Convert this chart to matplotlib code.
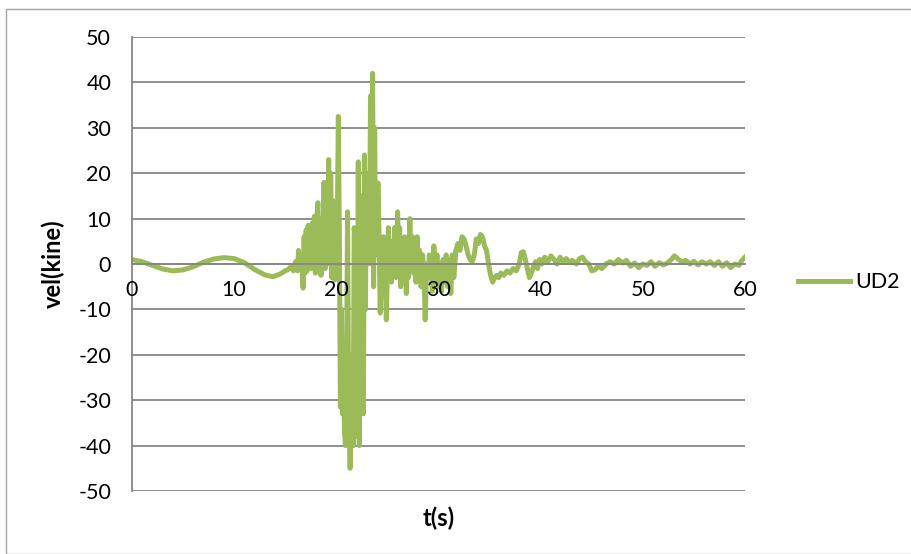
import matplotlib
matplotlib.use("Agg")
import matplotlib.pyplot as plt
from matplotlib.patches import Rectangle

# time (s) and velocity (kine)
t = [0, 1, 2, 3, 4, 5, 6, 7, 8, 9, 10, 11, 12, 13, 13.8, 14.5, 15, 15.3, 15.6, 15.8,
     16.0, 16.2, 16.3, 16.45, 16.6, 16.75, 16.85, 16.95, 17.05, 17.15, 17.25, 17.35,
     17.45, 17.55, 17.65, 17.75, 17.85, 17.95, 18.05, 18.2, 18.3, 18.4, 18.5, 18.6,
     18.7, 18.8, 18.9, 19.0, 19.1, 19.25, 19.35, 19.45, 19.55, 19.65, 19.75, 19.85,
     19.95, 20.05, 20.2, 20.3, 20.4, 20.5, 20.6, 20.7, 20.8, 20.9, 21.0, 21.1, 21.2,
     21.35, 21.45, 21.55, 21.65, 21.75, 21.85, 21.95, 22.05, 22.15, 22.25, 22.35,
     22.45, 22.55, 22.65, 22.75, 22.85, 22.95, 23.05, 23.15, 23.25, 23.35, 23.45,
     23.55, 23.65, 23.75, 23.85, 23.95, 24.1, 24.2, 24.3, 24.4, 24.5, 24.6, 24.75,
     24.9, 25.0, 25.1, 25.2, 25.3, 25.4, 25.5, 25.6, 25.7, 25.85, 26.0, 26.1, 26.2,
     26.3, 26.45, 26.55, 26.7, 26.85, 26.95, 27.05, 27.2, 27.3, 27.45, 27.55, 27.7,
     27.8, 27.9, 28.0, 28.15, 28.3, 28.45, 28.6, 28.7, 28.85, 29.0, 29.1, 29.2, 29.4,
     29.55, 29.7, 29.85, 30.0, 30.15, 30.3, 30.45, 30.6, 30.75, 30.9, 31.05, 31.2,
     31.35, 31.5, 31.7, 31.9, 32.1, 32.3, 32.5, 32.7, 32.9, 33.1, 33.3, 33.5, 33.7,
     33.9, 34.1, 34.3, 34.5, 34.7, 34.9, 35.1, 35.3, 35.5, 35.7, 35.9, 36.1, 36.4,
     36.7, 37.0, 37.3, 37.6, 37.9, 38.1, 38.3, 38.5, 38.7, 38.9, 39.1, 39.3, 39.5,
     39.7, 39.9, 40.1, 40.4, 40.7, 41.0, 41.3, 41.6, 41.9, 42.2, 42.5, 42.8, 43.1,
     43.5, 43.8, 44.1, 44.4, 44.7, 45.0, 45.3, 45.6, 46.0, 46.4, 46.8, 47.2, 47.6,
     48.0, 48.4, 48.8, 49.2, 49.6, 50.0, 50.4, 50.8, 51.2, 51.6, 52.0, 52.4, 52.8,
     53.1, 53.4, 53.8, 54.2, 54.6, 55.0, 55.4, 55.8, 56.2, 56.6, 57.0, 57.4, 57.8,
     58.2, 58.6, 59.0, 59.4, 59.7, 60.0]
vel = [1.0, 0.5, -0.3, -1.1, -1.5, -1.3, -0.6, 0.4, 1.1, 1.4, 1.2, 0.3, -1.2, -2.4, -2.8, -2.2, -1.5, -1.2, -0.5, -1.5,
       0.5, -1.5, 3.0, -1.0, 1.0, -5.3, 6.0, -2.0, 7.5, -1.5, 8.5, 0.0,
       6.0, -1.0, 9.0, 2.0, 10.5, -2.0, 9.0, 13.5, 1.0, 10.0, -2.5, 8.0,
       3.0, 18.0, -1.0, 15.0, 2.0, 23.0, 0.0, 20.0, -3.0, 14.0, 5.0, -3.5,
       8.0, -2.0, 32.5, 5.0, -31.5, -10, -33, -20, -37, -40, -25, 11.5, -30,
       -45, -35, -20, -40, 8, 5, -35, -38, 22.5, -40, -10,
       15, 5, -33, 24, -10, 20, 0, 15, 5, 37, 0,
       42, -5, 30, 2, 17, 17.8, 3, -10.8, 2, -5, 6, -2,
       -12.3, 0, 8, -2, 5, -4, 3, -1, 8, -3, 11.5, 0, 8,
       -5, 4, -2, 6, -6.5, 2, -3, 10, 0, 6, -2, 5,
       -4, 6, -3, 3, -5, 2, -4, -12.3, 0, -3, 2, 1.5, -6,
       4, -4, 2, -5, 0, -6, 1, -4, 2, -5, 1, -6.5,
       2, -3, 3, 4.5, 3, 6, 5.5, 4, 2, 1, 0.5, 2, 5.5,
       4.5, 6.5, 6, 4, 3, 0, -2.5, -4, -3, -2.5, -3, -2, -2.5,
       -1.5, -2, -1, -1.5, 0, 2.5, 2.7, 1, -1, -3, -2, -0.5, 0.5,
       -1, 1, 0, 1.5, 0.5, 1.8, 1, 0, 1.5, 0.5, 1.2, 0.3, 0.8,
       0, 1.2, 1.5, 0.5, 0, -1.5, -1.3, -0.5, -1.0, 0, 0.5, 0, 1.0,
       0.2, 0.8, -0.5, 0.2, -0.8, 0, -0.3, 0.5, -0.5, 0.3, -0.2, 0.2, 1.0,
       1.8, 1.2, 0.5, 0.8, 0, 0.6, -0.2, 0.5, 0, 0.5, -0.3, 0.5, -0.5,
       0.3, -0.8, 0, -0.3, 0.8, 1.5]

xticks = [0, 10, 20, 30, 40, 50, 60]
yticks = [-50, -40, -30, -20, -10, 0, 10, 20, 30, 40, 50]

plt.rcParams['font.family'] = ['Lato', 'DejaVu Sans']
plt.rcParams['axes.unicode_minus'] = False

fig = plt.figure(figsize=(9.12, 5.54), dpi=100)
ax = fig.add_axes([0.1447, 0.1137, 0.6722, 0.8195])

ax.plot(t, vel, color='#9BBB59', lw=3.6, label='UD2', solid_joinstyle='round')

ax.set_xlim(0, 60)
ax.set_ylim(-50, 50)
ax.set_xticks(xticks)
ax.set_yticks(yticks)
ax.grid(axis='y', color='#868686', lw=1.3)
ax.set_axisbelow(True)

for s in ['top', 'right']:
    ax.spines[s].set_visible(False)
ax.spines['left'].set_color('#868686')
ax.spines['left'].set_linewidth(1.3)
ax.spines['bottom'].set_position(('data', 0))
ax.spines['bottom'].set_color('#868686')
ax.spines['bottom'].set_linewidth(1.3)
ax.tick_params(length=0, labelsize=15.5, colors='black')
ax.tick_params(axis='y', pad=15)

# x labels sit on the zero line, drawn above the trace like Excel does
ax.set_xticklabels([])
for x in xticks:
    ax.text(x, -3.5, str(x), ha='center', va='top', fontsize=15.5, zorder=5)

ax.set_xlabel('t(s)', fontsize=17, fontweight='bold')
ax.xaxis.set_label_coords(0.5, -0.035)
ax.set_ylabel('vel(kine)', fontsize=17, fontweight='bold')
ax.yaxis.set_label_coords(-0.11, 0.5)

ax.legend(loc='center left', bbox_to_anchor=(1.055, 0.46), frameon=False,
          fontsize=15.5, handlelength=2.4, handletextpad=0.25)

fig.patches.append(Rectangle((0.007, 0.0), 1.5, 0.984, transform=fig.transFigure,
                             fill=False, edgecolor='#a6a6a6', lw=1))

fig.savefig('out.png', dpi=100)
